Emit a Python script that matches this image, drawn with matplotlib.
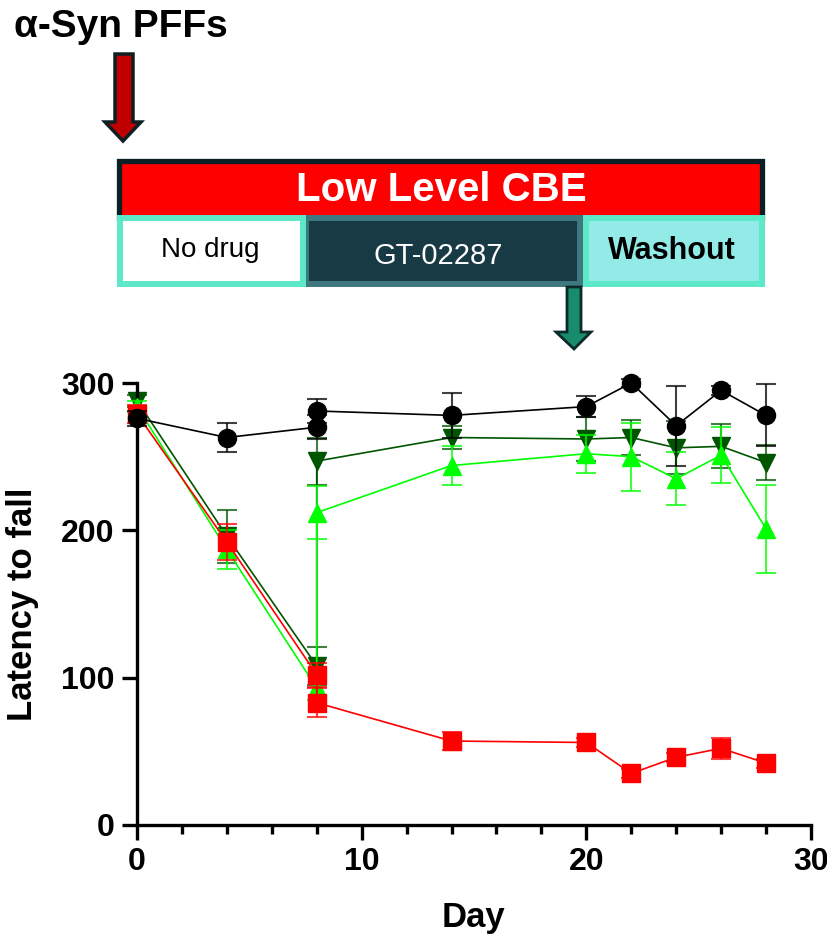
import numpy as np
import matplotlib
matplotlib.use('Agg')
import matplotlib.pyplot as plt
from matplotlib.patches import Rectangle, Polygon
from matplotlib.colors import to_rgba

plt.rcParams['font.family'] = ['Liberation Sans', 'DejaVu Sans']

# data (day 8 has two readings per group)
days = [0, 4, 8, 8, 14, 20, 22, 24, 26, 28]

ctrl = [276, 263, 270, 281, 278, 284, 300, 271, 295, 278]
ctrl_err = [5, 10, 8, 8, 15, 7, 3, 27, 3, 21]

gt_dark = [288, 196, 108, 247, 263, 262, 263, 256, 257, 246]
gt_dark_err = [4, 18, 13, 16, 8, 15, 12, 18, 15, 12]

gt_light = [284, 187, 93, 212, 244, 252, 250, 235, 251, 201]
gt_light_err = [4, 13, 8, 18, 13, 13, 23, 18, 19, 30]

cbe = [279, 192, 102, 83, 57, 56, 35, 46, 52, 42]
cbe_err = [6, 12, 8, 10, 6, 3, 3, 3, 7, 3]

W, H = 828, 943
fig = plt.figure(figsize=(W / 100, H / 100), dpi=100)

# header drawing in pixel coordinates
ov = fig.add_axes([0, 0, 1, 1])
ov.set_xlim(0, W)
ov.set_ylim(H, 0)
ov.axis('off')

ov.text(14, 27, 'α-Syn PFFs', fontsize=28, fontweight='bold', ha='left', va='center')

red_arrow = [(115, 54), (133, 54), (133, 122), (141, 122), (123, 141), (105, 122), (115, 122)]
ov.add_patch(Polygon(red_arrow, closed=True, fc='#c00000', ec='#0d1f22', lw=2.5, joinstyle='miter'))

ov.add_patch(Rectangle((119.5, 160.5), 643, 57, fc='#ff0000', ec='#0b1f24', lw=3.8))
ov.text(441, 190, 'Low Level CBE', color='white', fontsize=29, fontweight='bold', ha='center', va='center')

ov.add_patch(Rectangle((306, 218), 274, 66, fc='#183a44', ec='#3e7880', lw=4.3))
ov.add_patch(Rectangle((120, 218), 183, 66, fc='white', ec='#5de8c8', lw=4.3))
ov.add_patch(Rectangle((586, 218), 176, 66, fc='#92ebe7', ec='#5de8c8', lw=4.3))
ov.text(210, 250, 'No drug', color='black', fontsize=20, ha='center', va='center')
ov.text(438, 256, 'GT-02287', color='white', fontsize=21, ha='center', va='center')
ov.text(672, 251, 'Washout', color='black', fontsize=22, fontweight='bold', ha='center', va='center')

green_arrow = [(567, 287), (581, 287), (581, 332), (591, 332), (574, 349), (556, 332), (567, 332)]
ov.add_patch(Polygon(green_arrow, closed=True, fc='#1a8c6e', ec='#0d2a2a', lw=2.0, joinstyle='miter'))

# main plot
ax = fig.add_axes([137 / W, 1 - 825 / H, (811 - 137) / W, (825 - 383) / H])
ax.patch.set_alpha(0)

series = [
    (gt_dark, gt_dark_err, '#005500', 'v', 2),
    (gt_light, gt_light_err, '#00ff00', '^', 3),
    (cbe, cbe_err, '#ff0000', 's', 4),
    (ctrl, ctrl_err, '#000000', 'o', 5),
]
for vals, errs, col, mk, z in series:
    ax.errorbar(days, vals, yerr=errs, color=col, ecolor=to_rgba(col, 0.75),
                marker=mk, markersize=13, lw=1.2, elinewidth=1.5, capsize=7,
                capthick=1.5, zorder=z, clip_on=False)

ax.set_xlim(0, 30)
ax.set_ylim(0, 300)
ax.set_xticks([0, 10, 20, 30])
ax.set_xticks(np.arange(0, 31, 2), minor=True)
ax.set_yticks([0, 100, 200, 300])

for s in ['top', 'right']:
    ax.spines[s].set_visible(False)
for s in ['left', 'bottom']:
    ax.spines[s].set_linewidth(2.4)

ax.tick_params(axis='both', which='major', direction='out', length=11, width=2.4,
               labelsize=23, pad=5)
ax.tick_params(axis='x', which='minor', direction='out', length=6.5, width=2.4)
for lab in ax.get_xticklabels() + ax.get_yticklabels():
    lab.set_fontweight('bold')

ax.set_xlabel('Day', fontsize=25, fontweight='bold')
ax.set_ylabel('Latency to fall', fontsize=25, fontweight='bold')
ax.xaxis.set_label_coords(0.5, -0.172)
ax.yaxis.set_label_coords(-0.145, 0.5)

fig.savefig('out.png', dpi=100)
